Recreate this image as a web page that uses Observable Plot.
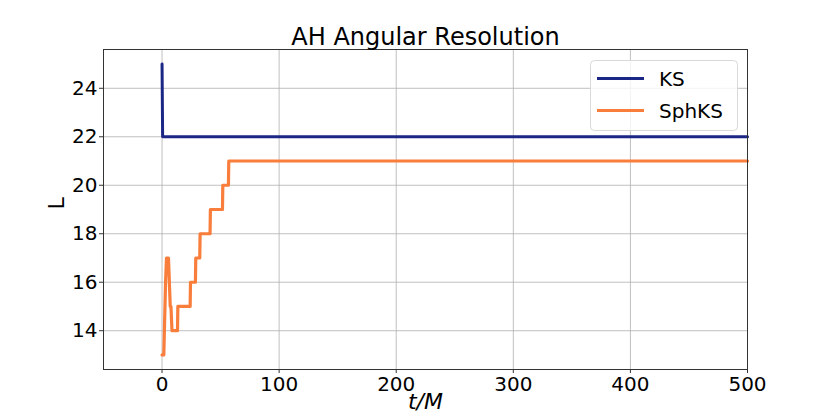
<!DOCTYPE html>
<html><head><meta charset="utf-8">
<script src="https://cdn.jsdelivr.net/npm/d3@7"></script>
<script src="https://cdn.jsdelivr.net/npm/@observablehq/plot@0.6"></script>
<style>
body{margin:0;background:#fff}
svg{font-family:"DejaVu Sans",sans-serif}
</style>
</head><body><div id="chart"></div>
<script>
const title = "AH Angular Resolution";
const xLabel = "t/M";
const yLabel = "L";
const seriesNames = ["KS", "SphKS"];
const seriesColors = ["#1b2784", "#f97d3b"];
const xTicks = [0, 100, 200, 300, 400, 500];
const yTicks = [14, 16, 18, 20, 22, 24];

const ksT = [0, 0.5, 500];
const ksL = [25, 22, 22];

const sphT = [0, 1.5, 3, 3.8, 5.5, 7, 7.6, 8.5, 13.2, 13.5, 24, 24.3, 28.5, 28.8, 32.2, 32.5, 41, 41.3, 51.6, 51.9, 56.7, 57, 500];
const sphL = [13, 13, 16, 17, 17, 15, 15, 14, 14, 15, 15, 16, 16, 17, 17, 18, 18, 19, 19, 20, 20, 21, 21];

const ks = ksT.map((t, i) => ({t, L: ksL[i]}));
const sph = sphT.map((t, i) => ({t, L: sphL[i]}));

const plot = Plot.plot({
  width: 830, height: 415,
  marginLeft: 103, marginRight: 83, marginTop: 49, marginBottom: 46,
  style: {fontFamily: "'DejaVu Sans', sans-serif", fontSize: "20px", background: "#fff", color: "#000"},
  x: {domain: [-50, 500]},
  y: {domain: [12.4, 25.6]},
  marks: [
    Plot.gridX(xTicks, {stroke: "#b0b0b0", strokeOpacity: 1, strokeWidth: 0.8}),
    Plot.gridY(yTicks, {stroke: "#b0b0b0", strokeOpacity: 1, strokeWidth: 0.8}),
    Plot.axisX(xTicks, {tickSize: 4, tickPadding: 3, fontSize: 20, label: null, stroke: "#333"}),
    Plot.axisY(yTicks, {tickSize: 4, tickPadding: 2, fontSize: 20, label: null, stroke: "#333"}),
    Plot.line(ks, {x: "t", y: "L", stroke: seriesColors[0], strokeWidth: 3}),
    Plot.line(sph, {x: "t", y: "L", stroke: seriesColors[1], strokeWidth: 3.2}),
    Plot.frame({stroke: "#333", strokeWidth: 1}),
    Plot.text([title], {text: d => d, frameAnchor: "top", dy: -12, fontSize: 24, lineAnchor: "middle"}),
    Plot.text([xLabel], {text: d => d, frameAnchor: "bottom", dy: 32, fontSize: 22, fontStyle: "italic", lineAnchor: "middle"}),
    Plot.text([yLabel], {text: d => d, frameAnchor: "left", dx: -47, fontSize: 22, rotate: -90, lineAnchor: "middle"})
  ]
});

// legend
const svg = d3.select(plot);
const lg = svg.append("g").attr("text-anchor", "start");
lg.append("rect").attr("x", 590.5).attr("y", 60.5).attr("width", 147).attr("height", 70)
  .attr("rx", 4).attr("fill", "#fff").attr("fill-opacity", 0.8).attr("stroke", "#d9d9d9");
seriesNames.forEach((name, i) => {
  const y = 78.5 + i * 32;
  lg.append("line").attr("x1", 597).attr("x2", 644).attr("y1", y).attr("y2", y)
    .attr("stroke", seriesColors[i]).attr("stroke-width", 3);
  lg.append("text").attr("x", 659).attr("y", y + 7).attr("font-size", 20)
    .attr("text-anchor", "start").attr("fill", "#000").text(name);
});

document.getElementById("chart").appendChild(plot);
</script>
</body></html>
